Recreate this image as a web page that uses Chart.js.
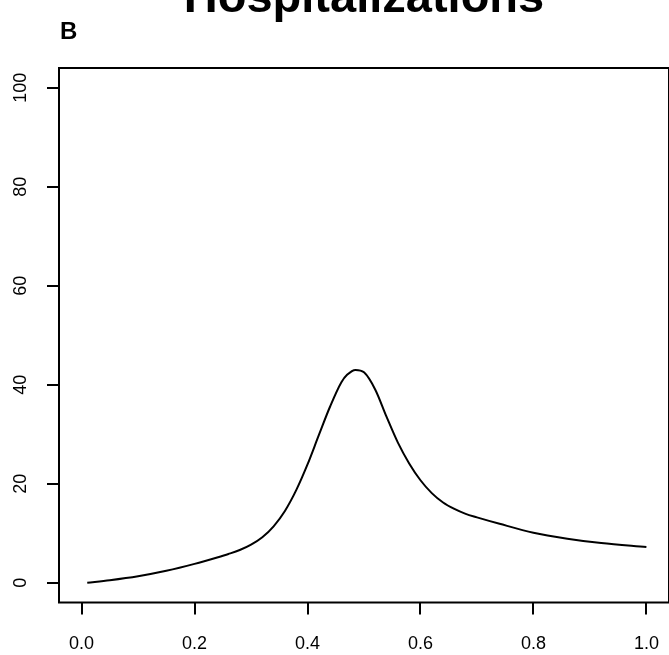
<!DOCTYPE html>
<html>
<head>
<meta charset="utf-8">
<script src="https://cdn.jsdelivr.net/npm/chart.js@4/dist/chart.umd.min.js"></script>
<style>
  html, body { margin: 0; padding: 0; background: #fff; }
  #wrap { width: 669px; height: 655px; position: relative; }
</style>
</head>
<body>
<div id="wrap"><canvas id="hosp-chart"></canvas></div>
<script>
// values
const titleText = 'Hospitalizations';
const panelLabel = 'B';
const xValues = [0.01, 0.05, 0.10, 0.15, 0.20, 0.24, 0.26, 0.28, 0.30, 0.32, 0.34, 0.36, 0.38, 0.40, 0.42, 0.44,
                 0.46, 0.47, 0.485, 0.50, 0.52, 0.54, 0.56, 0.58, 0.60, 0.62, 0.64, 0.66, 0.68, 0.70, 0.74,
                 0.80, 0.86, 0.92, 1.00];
const hospitalizations = [0, 0.5, 1.3, 2.4, 3.8, 5.1, 5.8, 6.6, 7.7, 9.2, 11.4, 14.5, 18.7, 23.9, 29.8, 35.6,
                          40.5, 42.0, 43.0, 42.5, 39.0, 33.5, 28.3, 24.1, 20.7, 18.1, 16.2, 14.9, 13.9, 13.2, 11.9,
                          10.1, 8.9, 8.0, 7.2];
const xTicks = [0, 0.2, 0.4, 0.6, 0.8, 1.0];
const yTicks = [0, 20, 40, 60, 80, 100];

const font = '"Liberation Sans", Arial, sans-serif';

// box round the plot, plus the title and panel letter
const frame = {
  id: 'frame',
  afterDraw(chart) {
    const { ctx, chartArea: a } = chart;
    ctx.save();
    ctx.strokeStyle = '#000';
    ctx.lineWidth = 2;
    ctx.strokeRect(a.left, a.top, a.right - a.left, a.bottom - a.top);
    ctx.fillStyle = '#000';
    ctx.textBaseline = 'alphabetic';
    ctx.textAlign = 'center';
    ctx.font = 'bold 47px ' + font;
    ctx.fillText(titleText, (a.left + a.right) / 2, 12);
    ctx.textAlign = 'left';
    ctx.font = 'bold 24px ' + font;
    ctx.fillText(panelLabel, 60, 39);
    ctx.restore();
  }
};

const points = xValues.map((x, i) => ({ x, y: hospitalizations[i] }));

const tickGrid = { drawOnChartArea: false, drawTicks: true, tickLength: 12, color: '#000', lineWidth: 2 };

new Chart(document.getElementById('hosp-chart').getContext('2d'), {
  type: 'line',
  data: {
    datasets: [{
      data: points,
      borderColor: '#000',
      borderWidth: 2,
      pointRadius: 0,
      fill: false,
      cubicInterpolationMode: 'monotone'
    }]
  },
  options: {
    responsive: true,
    maintainAspectRatio: false,
    animation: false,
    layout: { padding: { top: 68, right: 0, left: 0, bottom: 0 } },
    plugins: { legend: { display: false }, tooltip: { enabled: false }, title: { display: false } },
    scales: {
      x: {
        type: 'linear',
        min: -0.04,
        max: 1.04,
        afterBuildTicks: s => { s.ticks = xTicks.map(v => ({ value: v })); },
        afterFit: s => { s.height = 52.5; s.paddingLeft = 0; s.paddingRight = 0; },
        grid: tickGrid,
        border: { display: false },
        ticks: {
          color: '#000',
          font: { family: font, size: 18 },
          padding: 19,
          maxRotation: 0,
          callback: v => Number(v).toFixed(1)
        }
      },
      y: {
        type: 'linear',
        min: -4,
        max: 104,
        afterBuildTicks: s => { s.ticks = yTicks.map(v => ({ value: v })); },
        afterFit: s => { s.width = 59; s.paddingTop = 0; s.paddingBottom = 0; },
        grid: tickGrid,
        border: { display: false },
        ticks: {
          color: '#000',
          font: { family: font, size: 18 },
          minRotation: 90,
          maxRotation: 90,
          crossAlign: 'center',
          padding: 11,
          callback: v => String(v)
        }
      }
    }
  },
  plugins: [frame]
});
</script>
</body>
</html>
